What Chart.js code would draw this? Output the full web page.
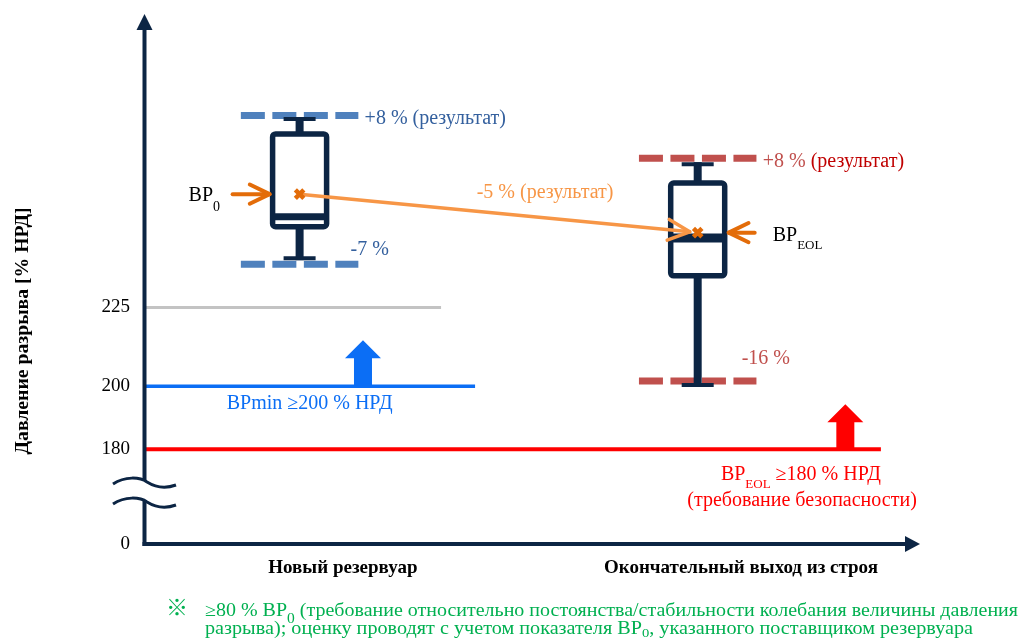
<!DOCTYPE html>
<html><head><meta charset="utf-8">
<script src="https://cdn.jsdelivr.net/npm/chart.js@4/dist/chart.umd.min.js"></script>
<style>html,body{margin:0;padding:0;background:#fff;}canvas{display:block}</style>
</head><body>
<canvas id="c" width="1025" height="642"></canvas>
<script>
// ---------- data ----------
const categories = ['Новый резервуар', 'Окончательный выход из строя'];
const boxPos = [20, 71.5];
const whiskerMax = [284.7, 270.4];
const q3 = [280.0, 264.4];
const median = [253.7, 247.0];
const q1 = [250.6, 235.0];
const whiskerMin = [240.6, 200.4];
const means = [260.9, 248.7];
const upperLimit = [285.8, 272.3];
const lowerLimit = [238.7, 201.7];
const upperLabels = ['+8 %', '+8 %'];
const lowerLabels = ['-7 %', '-16 %'];
const changeLabel = '-5 % (результат)';
const yTicks = [150, 180, 200, 225];
const yTickLabels = ['0', '180', '200', '225'];
const thresholdValues = [225, 200, 180];
const thresholdEnds = [38.3, 42.7, 95.2];

// ---------- styles ----------
const NAVY = '#0c2544';
const ORANGE = '#e36c09';
const LORANGE = '#f79646';
const SERIF = '"Liberation Serif", "Times New Roman", serif';
const limitHalf = 7.6;
const labelShift = 5.6;
const thresholdColors = ['#c3c3c3', '#0b6ef5', '#ff0000'];
const thresholdWidths = [3, 3.5, 4];

const datasets = [];
datasets.push({
  label: 'means', data: means.map((m, i) => ({x: boxPos[i], y: m})),
  pointStyle: 'crossRot', pointRadius: 6, borderWidth: 4.5,
  borderColor: ORANGE, backgroundColor: ORANGE, showLine: false
});
thresholdValues.forEach((v, i) => datasets.push({
  label: 't' + i, data: [{x: 0, y: v}, {x: thresholdEnds[i], y: v}],
  showLine: true, pointRadius: 0, borderColor: thresholdColors[i],
  borderWidth: thresholdWidths[i], borderCapStyle: 'butt'
}));
[upperLimit, lowerLimit].forEach((arr, k) => arr.forEach((v, i) => datasets.push({
  label: 'lim' + k + i,
  data: [{x: boxPos[i] - limitHalf, y: v}, {x: boxPos[i] + limitHalf, y: v}],
  showLine: true, pointRadius: 0, borderColor: i === 0 ? '#4f81bd' : '#c0504d',
  borderWidth: 7, borderDash: [24, 7.5], borderCapStyle: 'butt'
})));

function rich(ctx, segs, x, y, align, width) {
  let w = 0;
  segs.forEach(s => { ctx.font = s.f; s.w = ctx.measureText(s.t).width; w += s.w; });
  const sx = width ? width / w : 1;
  ctx.save();
  ctx.translate(x, y); ctx.scale(sx, 1);
  ctx.textBaseline = 'alphabetic'; ctx.textAlign = 'left';
  let cx = align === 'center' ? -w / 2 : (align === 'right' ? -w : 0);
  segs.forEach(s => { ctx.font = s.f; ctx.fillStyle = s.c; ctx.fillText(s.t, cx, s.dy || 0); cx += s.w; });
  ctx.restore();
}
const F = (size, bold) => (bold ? 'bold ' : '') + size + 'px ' + SERIF;

function line(ctx, x1, y1, x2, y2) { ctx.beginPath(); ctx.moveTo(x1, y1); ctx.lineTo(x2, y2); ctx.stroke(); }
function openHead(ctx, tx, ty, ang, len, spread) {
  ctx.beginPath();
  ctx.moveTo(tx - len * Math.cos(ang - spread), ty - len * Math.sin(ang - spread));
  ctx.lineTo(tx, ty);
  ctx.lineTo(tx - len * Math.cos(ang + spread), ty - len * Math.sin(ang + spread));
  ctx.stroke();
}

const boxPlugin = {
  id: 'boxes',
  beforeDatasetDraw(chart, args) {
    if (args.index !== 0) return;
    const ctx = chart.ctx, xs = chart.scales.x, ys = chart.scales.y;
    const X = v => xs.getPixelForValue(v), Y = v => ys.getPixelForValue(v);
    ctx.save();
    ctx.strokeStyle = NAVY; ctx.lineCap = 'butt';
    boxPos.forEach((p, i) => {
      const cx = X(p);
      ctx.lineWidth = 8;
      line(ctx, cx, Y(whiskerMax[i]) - 2, cx, Y(q3[i]));
      line(ctx, cx, Y(q1[i]), cx, Y(whiskerMin[i]) + 2);
      ctx.lineWidth = 4;
      line(ctx, cx - 16, Y(whiskerMax[i]), cx + 16, Y(whiskerMax[i]));
      line(ctx, cx - 16, Y(whiskerMin[i]), cx + 16, Y(whiskerMin[i]));
      ctx.lineWidth = 5.5; ctx.lineJoin = 'round';
      ctx.fillStyle = '#fff';
      ctx.beginPath();
      ctx.roundRect(cx - 27, Y(q3[i]), 54, Y(q1[i]) - Y(q3[i]), 3);
      ctx.fill(); ctx.stroke();
      ctx.lineWidth = i === 0 ? 7 : 9;
      line(ctx, cx - 27, Y(median[i]), cx + 27, Y(median[i]));
    });
    // connector from BP0 to BPEOL
    const x0 = X(boxPos[0]), y0 = Y(means[0]), x1 = X(boxPos[1]), y1 = Y(means[1]);
    const ang = Math.atan2(y1 - y0, x1 - x0);
    const tx = x1 - 8 * Math.cos(ang), ty = y1 - 8 * Math.sin(ang);
    ctx.strokeStyle = LORANGE; ctx.lineWidth = 3.5; ctx.lineCap = 'round';
    line(ctx, x0, y0, tx, ty);
    openHead(ctx, tx, ty, ang, 24, 0.45);
    // pointer arrows
    ctx.strokeStyle = ORANGE; ctx.lineWidth = 4;
    line(ctx, x0 - 67, y0, x0 - 30, y0);
    openHead(ctx, x0 - 30, y0, 0, 22, 0.45);
    line(ctx, x1 + 57, y1, x1 + 31, y1);
    openHead(ctx, x1 + 31, y1, Math.PI, 22, 0.45);
    ctx.restore();
  },
  afterDraw(chart) {
    const ctx = chart.ctx, xs = chart.scales.x, ys = chart.scales.y, a = chart.chartArea;
    const X = v => xs.getPixelForValue(v), Y = v => ys.getPixelForValue(v);
    ctx.save();
    // axes
    ctx.strokeStyle = NAVY; ctx.fillStyle = NAVY; ctx.lineWidth = 4; ctx.lineCap = 'butt';
    const ax = a.left - 0.5, ay = a.bottom;
    line(ctx, ax, ay + 2, ax, a.top + 14);
    ctx.beginPath(); ctx.moveTo(ax, a.top); ctx.lineTo(ax - 8, a.top + 16); ctx.lineTo(ax + 8, a.top + 16); ctx.closePath(); ctx.fill();
    line(ctx, ax - 2, ay, a.right - 12, ay);
    ctx.beginPath(); ctx.moveTo(a.right + 2, ay); ctx.lineTo(a.right - 13, ay - 8); ctx.lineTo(a.right - 13, ay + 8); ctx.closePath(); ctx.fill();
    // axis break
    const bw = (yo) => { ctx.moveTo(113, 484 + yo); ctx.bezierCurveTo(125, 476 + yo, 140, 477 + yo, 147, 482 + yo); ctx.bezierCurveTo(155, 487 + yo, 165, 489 + yo, 176, 485 + yo); };
    ctx.fillStyle = '#fff';
    ctx.beginPath(); bw(0); ctx.lineTo(176, 505); ctx.bezierCurveTo(165, 509, 155, 507, 147, 502); ctx.bezierCurveTo(140, 497, 125, 496, 113, 504); ctx.closePath(); ctx.fill();
    ctx.lineWidth = 3;
    ctx.beginPath(); bw(0); ctx.stroke();
    ctx.beginPath(); bw(20); ctx.stroke();
    // threshold up-arrows
    const upArrow = (xv, yv, color, h) => {
      const cx = X(xv), by = Y(yv) - 1;
      ctx.fillStyle = color; ctx.beginPath();
      ctx.moveTo(cx - 9, by); ctx.lineTo(cx - 9, by - h + 18); ctx.lineTo(cx - 18, by - h + 18);
      ctx.lineTo(cx, by - h); ctx.lineTo(cx + 18, by - h + 18); ctx.lineTo(cx + 9, by - h + 18); ctx.lineTo(cx + 9, by);
      ctx.closePath(); ctx.fill();
    };
    upArrow(28.2, thresholdValues[1], thresholdColors[1], 45);
    upArrow(90.6, thresholdValues[2], thresholdColors[2], 44);
    // annotations
    const cx0 = X(boxPos[0]), cx1 = X(boxPos[1]);
    rich(ctx, [{t: upperLabels[0] + ' (результат)', f: F(20), c: '#34609e'}], cx0 + 65, Y(upperLimit[0]) + 8.5);
    rich(ctx, [{t: lowerLabels[0], f: F(20), c: '#34609e'}], cx0 + 51, Y(lowerLimit[0]) - 9);
    rich(ctx, [{t: upperLabels[1] + ' ', f: F(20), c: '#c0504d'}, {t: '(результат)', f: F(20), c: '#c00000'}], cx1 + 65, Y(upperLimit[1]) + 8.5);
    rich(ctx, [{t: lowerLabels[1], f: F(20), c: '#c0504d'}], cx1 + 44, Y(lowerLimit[1]) - 17);
    rich(ctx, [{t: 'BP', f: F(20), c: '#000'}, {t: '0', f: F(14), c: '#000', dy: 10}], cx0 - 111, Y(means[0]) + 7);
    rich(ctx, [{t: 'BP', f: F(20), c: '#000'}, {t: 'EOL', f: F(13), c: '#000', dy: 8.5}], cx1 + 75, Y(means[1]) + 8);
    rich(ctx, [{t: changeLabel, f: F(20), c: LORANGE}], (cx0 + cx1) / 2 - 22, (Y(means[0]) + Y(means[1])) / 2 - 15);
    rich(ctx, [{t: 'BPmin ≥200 % НРД', f: F(20), c: thresholdColors[1]}], X(21.3), Y(thresholdValues[1]) + 23, 'center');
    rich(ctx, [{t: 'BP', f: F(20), c: '#ff0000'}, {t: 'EOL', f: F(13), c: '#ff0000', dy: 8}, {t: ' ≥180 % НРД', f: F(20), c: '#ff0000'}], X(74.5), Y(thresholdValues[2]) + 30.6);
    rich(ctx, [{t: '(требование безопасности)', f: F(20), c: '#ff0000'}], X(85.0), Y(thresholdValues[2]) + 57, 'center');
    // y title
    ctx.save(); ctx.translate(28, 331); ctx.rotate(-Math.PI / 2);
    rich(ctx, [{t: 'Давление разрыва [% НРД]', f: F(19, true), c: '#000'}], 0, 0, 'center', 247);
    ctx.restore();
    // footnote
    const G = '#00b050';
    rich(ctx, [{t: '※', f: '22px "Noto Sans CJK JP", "DejaVu Sans", sans-serif', c: G}], 177, 615, 'center');
    rich(ctx, [{t: '≥80 % BP', f: F(18), c: G}, {t: '0', f: F(14), c: G, dy: 7}, {t: ' (требование относительно постоянства/стабильности колебания величины давления', f: F(18), c: G}], 205, 616, 'left', 813);
    rich(ctx, [{t: 'разрыва); оценку проводят с учетом показателя BP', f: F(18), c: G}, {t: '0', f: F(13), c: G, dy: 3}, {t: ', указанного поставщиком резервуара', f: F(18), c: G}], 205, 634, 'left', 768);
    ctx.restore();
  }
};

const zeroPad = s => { s.paddingTop = 0; s.paddingBottom = 0; s.paddingLeft = 0; s.paddingRight = 0; };

new Chart(document.getElementById('c'), {
  type: 'scatter',
  data: {datasets},
  options: {
    responsive: false, animation: false, events: [],
    layout: {padding: {left: 0, right: 107, top: 14, bottom: 0}},
    plugins: {legend: {display: false}, tooltip: {enabled: false}},
    scales: {
      x: {
        type: 'linear', min: 0, max: 100,
        grid: {display: false, drawTicks: false}, border: {display: false},
        afterBuildTicks: s => { s.ticks = boxPos.map(p => ({value: p + labelShift})); },
        afterFit: s => { s.height = 98; zeroPad(s); },
        ticks: {
          autoSkip: false, maxRotation: 0, padding: 13, color: '#000',
          font: {family: SERIF, size: 19, weight: 'bold'},
          callback: (v, i) => categories[i]
        }
      },
      y: {
        type: 'linear', min: 150, max: 318,
        grid: {display: false, drawTicks: false}, border: {display: false},
        afterBuildTicks: s => { s.ticks = yTicks.map(v => ({value: v})); },
        afterFit: s => { s.width = 145; zeroPad(s); },
        ticks: {
          padding: 15, color: '#000', font: {family: SERIF, size: 19},
          callback: v => yTickLabels[yTicks.indexOf(v)]
        }
      }
    }
  },
  plugins: [boxPlugin]
});
</script>
</body></html>
